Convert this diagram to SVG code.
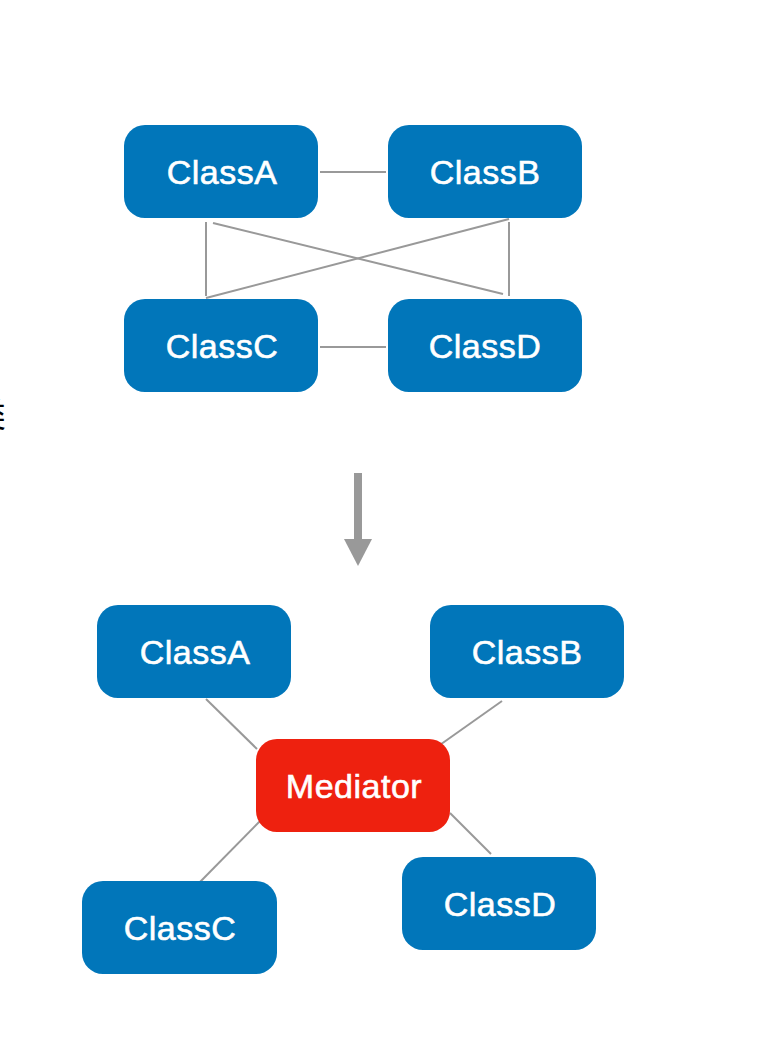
<svg xmlns="http://www.w3.org/2000/svg" width="772" height="1044" viewBox="0 0 772 1044">
<style>
.box{fill:#0176BA}
.med{fill:#EE210F}
.lbl{fill:#ffffff;stroke:#ffffff;stroke-width:0.6px;font-family:"Liberation Sans",Arial,Helvetica,sans-serif;font-size:34px;letter-spacing:0.5px;text-anchor:middle}
.ln{stroke:#999999;stroke-width:2;fill:none}
.cjk{font-family:"Noto Sans CJK SC","Noto Sans",sans-serif;font-size:34px;fill:#000000}
</style>
<rect width="772" height="1044" fill="#ffffff"/>
<text class="cjk" x="-28" y="427">类</text>
<g id="connectors">
  <line class="ln" x1="320" y1="172" x2="386" y2="172"/>
  <line class="ln" x1="320" y1="347" x2="386" y2="347"/>
  <line class="ln" x1="206" y1="222" x2="206" y2="296"/>
  <line class="ln" x1="509" y1="222" x2="509" y2="296"/>
  <line class="ln" x1="213" y1="223" x2="503" y2="294"/>
  <line class="ln" x1="509" y1="219" x2="206" y2="298"/>
  <line class="ln" x1="206" y1="699" x2="257" y2="749"/>
  <line class="ln" x1="502" y1="701" x2="437" y2="747"/>
  <line class="ln" x1="200" y1="882" x2="263" y2="818"/>
  <line class="ln" x1="450" y1="813" x2="491" y2="854"/>
  <g id="transform-arrow">
    <rect x="354" y="473" width="8" height="68" fill="#999999"/>
    <polygon points="344,539 372,539 358,566" fill="#999999"/>
  </g>
</g>
<g id="top-classA"><rect class="box" x="124" y="125" width="194" height="93" rx="21"/><text class="lbl" x="222" y="184">ClassA</text></g>
<g id="top-classB"><rect class="box" x="388" y="125" width="194" height="93" rx="21"/><text class="lbl" x="485" y="184">ClassB</text></g>
<g id="top-classC"><rect class="box" x="124" y="299" width="194" height="93" rx="21"/><text class="lbl" x="222" y="358">ClassC</text></g>
<g id="top-classD"><rect class="box" x="388" y="299" width="194" height="93" rx="21"/><text class="lbl" x="485" y="358">ClassD</text></g>
<g id="bot-classA"><rect class="box" x="97" y="605" width="194" height="93" rx="21"/><text class="lbl" x="195" y="664">ClassA</text></g>
<g id="bot-classB"><rect class="box" x="430" y="605" width="194" height="93" rx="21"/><text class="lbl" x="527" y="664">ClassB</text></g>
<g id="mediator"><rect class="med" x="256" y="739" width="194" height="93" rx="21"/><text class="lbl" x="354" y="798">Mediator</text></g>
<g id="bot-classC"><rect class="box" x="82" y="881" width="195" height="93" rx="21"/><text class="lbl" x="180" y="940">ClassC</text></g>
<g id="bot-classD"><rect class="box" x="402" y="857" width="194" height="93" rx="21"/><text class="lbl" x="500" y="916">ClassD</text></g>
</svg>
